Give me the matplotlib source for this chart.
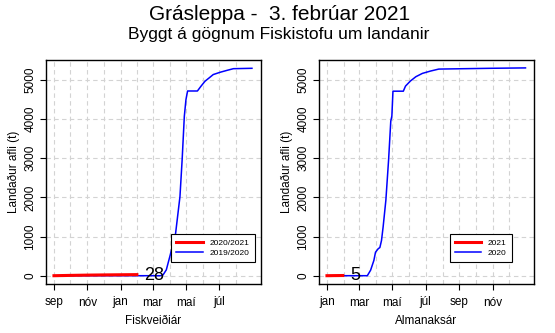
import numpy as np
import matplotlib
matplotlib.use('Agg')
import matplotlib.pyplot as plt

plt.rcParams['font.family'] = ['Liberation Sans', 'DejaVu Sans']

# Fiskveiðiár (days since 1 Sep)
fy_month_days = [0, 30, 61, 91, 122, 153, 181, 212, 242, 273, 303, 334]
fy_tick_days = [0, 61, 122, 181, 242, 303]
fy_tick_labels = ['sep', 'nóv', 'jan', 'mar', 'maí', 'júl']

cur_fy_days = [0, 30, 60, 90, 120, 152]
cur_fy_vals = [0, 8, 15, 20, 24, 28]

prev_fy_days = [0, 195, 200, 206, 213, 218, 223, 227, 231, 235, 239, 242, 245, 263,
                270, 277, 285, 292, 305, 318, 329, 363]
prev_fy_vals = [0, 0, 20, 150, 520, 800, 1080, 1550, 2020, 2960, 4070, 4500, 4720, 4720,
                4850, 4970, 5060, 5140, 5200, 5250, 5290, 5300]

# Almanaksár (days since 1 Jan)
cy_month_days = [0, 31, 59, 90, 120, 151, 181, 212, 243, 273, 304, 334]
cy_tick_days = [0, 59, 120, 181, 243, 304]
cy_tick_labels = ['jan', 'mar', 'maí', 'júl', 'sep', 'nóv']

cur_cy_days = [0, 15, 29]
cur_cy_vals = [0, 3, 5]

prev_cy_days = [0, 74, 80, 86, 89, 94, 97, 100, 103, 108, 113, 117, 119, 121, 140,
                144, 153, 163, 175, 190, 205, 300, 364]
prev_cy_vals = [0, 0, 140, 390, 600, 690, 720, 900, 1250, 1930, 2960, 3950, 4080, 4715, 4715,
                4845, 4975, 5085, 5170, 5230, 5280, 5300, 5310]

W, H = 555, 333
fig = plt.figure(figsize=(W / 100, H / 100), dpi=100)

fig.text(0.503, 1 - 14 / H, 'Grásleppa -  3. febrúar 2021', ha='center', va='center', fontsize=15)
fig.text(0.503, 1 - 35 / H, 'Byggt á gögnum Fiskistofu um landanir', ha='center', va='center', fontsize=12.5)


def panel(left_px, month_days, tick_days, tick_labels, cur_d, cur_v, prev_d, prev_v,
          labels, xlabel, note, note_x, leg_right):
    ax = fig.add_axes([left_px / W, (H - 284) / H, 215 / W, 224 / H])
    for d in month_days:
        ax.axvline(d, color='#d3d3d3', lw=0.8, ls=(0, (4, 3)), zorder=0)
    for v in range(0, 6000, 1000):
        ax.axhline(v, color='#d3d3d3', lw=0.8, ls=(0, (4, 3)), zorder=0)
    h_prev, = ax.plot(prev_d, prev_v, color='blue', lw=1.1, zorder=2)
    h_cur, = ax.plot(cur_d, cur_v, color='red', lw=2.2, zorder=3)
    ax.text(note_x, 0, note, fontsize=13, ha='center', va='center', zorder=4)
    ax.set_xlim(-14.6, 379.6)
    ax.set_ylim(-212, 5512)
    ax.set_xticks(tick_days)
    ax.set_xticklabels(tick_labels, fontsize=8.5)
    ax.set_yticks(range(0, 6000, 1000))
    ax.set_yticklabels([str(v) for v in range(0, 6000, 1000)], fontsize=8.5,
                       rotation=90, va='center')
    ax.tick_params(axis='x', length=4, width=0.8, pad=5)
    ax.tick_params(axis='y', length=4, width=0.8, pad=3)
    ax.set_xlabel(xlabel, fontsize=8.5, labelpad=5)
    ax.set_ylabel('Landaður afli (t)', fontsize=8.5, labelpad=3)
    for s in ax.spines.values():
        s.set_linewidth(1.0)
    leg = ax.legend([h_cur, h_prev], labels, loc='lower right',
                    bbox_to_anchor=(leg_right, 0.08), fontsize=6,
                    fancybox=False, framealpha=1, edgecolor='black', borderpad=0.6,
                    handlelength=3.2, labelspacing=0.3)
    leg.get_frame().set_linewidth(0.8)
    return ax


panel(46, fy_month_days, fy_tick_days, fy_tick_labels, cur_fy_days, cur_fy_vals,
      prev_fy_days, prev_fy_vals, ['2020/2021', '2019/2020'], 'Fiskveiðiár', '28', 183, 0.99)
panel(319, cy_month_days, cy_tick_days, cy_tick_labels, cur_cy_days, cur_cy_vals,
      prev_cy_days, prev_cy_vals, ['2021', '2020'], 'Almanaksár', '5', 52, 0.916)

fig.savefig('out.png', dpi=100)
